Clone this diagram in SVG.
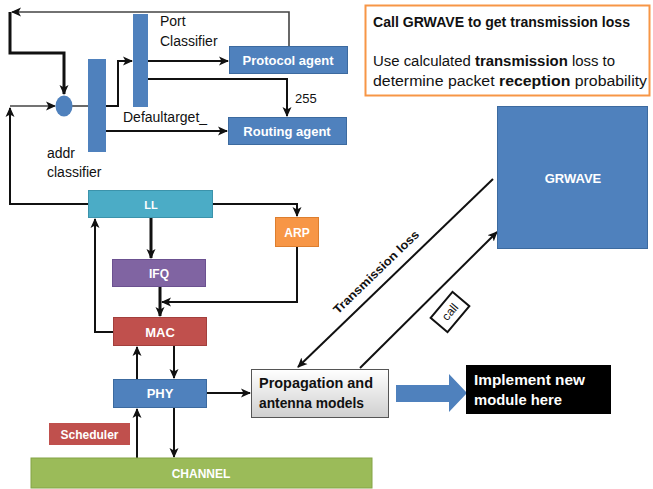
<svg xmlns="http://www.w3.org/2000/svg" width="653" height="489" viewBox="0 0 653 489">
  <defs>
    <marker id="arr" markerUnits="userSpaceOnUse" markerWidth="10" markerHeight="10" viewBox="0 0 10 10" refX="9" refY="5" orient="auto">
      <path d="M0,0.5 L10,5 L0,9.5 L2.5,5 Z" fill="#111"/>
    </marker>
    <linearGradient id="grey" x1="0" y1="0" x2="0" y2="1">
      <stop offset="0" stop-color="#ffffff"/>
      <stop offset="1" stop-color="#cfcfcf"/>
    </linearGradient>
    <style>
      .lbl { font-family: "Liberation Sans", Arial, sans-serif; font-weight: bold; fill: #fff; text-anchor: middle; }
      .lbs { font-family: "Liberation Sans", Arial, sans-serif; font-weight: bold; fill: #fff; }
      .txt { font-family: "Liberation Sans", Arial, sans-serif; fill: #111; }
      .b { font-weight: bold; }
      .blue { fill: #4f81bd; stroke: #3c6a9f; stroke-width: 1; }
      .bar { fill: #4f81bd; }
      .ln { fill: none; stroke: #111; stroke-width: 2; }
      .lt { fill: none; stroke: #444; stroke-width: 1.6; }
      .tk { fill: none; stroke: #111; stroke-width: 3; }
    </style>
  </defs>

  <!-- note box -->
  <g id="note">
    <rect x="365.5" y="5.5" width="284" height="90" fill="#fff" stroke="#f79646" stroke-width="2"/>
    <text class="txt b" x="373" y="27" font-size="14" textLength="257" lengthAdjust="spacingAndGlyphs">Call GRWAVE to get transmission loss</text>
    <text class="txt" x="373" y="66" font-size="14" textLength="242" lengthAdjust="spacingAndGlyphs">Use calculated <tspan class="b">transmission</tspan> loss to</text>
    <text class="txt" x="373" y="86" font-size="14" textLength="274" lengthAdjust="spacingAndGlyphs">determine packet <tspan class="b">reception</tspan> probability</text>
  </g>

  <!-- connectors -->
  <g id="connectors">
    <path class="lt" d="M289,46 L289,12 L12,12" marker-end="url(#arr)"/>
    <path class="tk" d="M10,12 L10,53 L64,53 L64,94" marker-end="url(#arr)"/>
    <path class="ln" d="M88,204 L10,204 L10,108" marker-end="url(#arr)"/>
    <path class="lt" d="M10,106 L55,106" marker-end="url(#arr)"/>
    <path class="lt" d="M72,106 L88,106"/>
    <path class="ln" d="M106,106 L118,106 L118,61 L132,61" marker-end="url(#arr)"/>
    <path class="ln" d="M148,61 L228,61" marker-end="url(#arr)"/>
    <path class="ln" d="M148,79 L287,79 L287,116" marker-end="url(#arr)"/>
    <path class="ln" d="M106,131 L227,131" marker-end="url(#arr)"/>
    <path class="ln" d="M213,204 L297,204 L297,216" marker-end="url(#arr)"/>
    <path class="tk" d="M151,218 L151,258" marker-end="url(#arr)"/>
    <path class="tk" d="M160,287 L160,316" marker-end="url(#arr)"/>
    <path class="ln" d="M297,247 L297,302 L162,302" marker-end="url(#arr)"/>
    <path class="ln" d="M113,332 L95,332 L95,219" marker-end="url(#arr)"/>
    <path class="ln" d="M137,379 L137,347" marker-end="url(#arr)"/>
    <path class="ln" d="M174,346 L174,378" marker-end="url(#arr)"/>
    <path class="ln" d="M207,393 L250,393" marker-end="url(#arr)"/>
    <path class="ln" d="M137,458 L137,409" marker-end="url(#arr)"/>
    <path class="ln" d="M174,408 L174,457" marker-end="url(#arr)"/>
    <path class="ln" d="M493,179 L298,367" marker-end="url(#arr)"/>
    <path class="ln" d="M360,368 L497,232" marker-end="url(#arr)"/>
    <polygon points="396,385 449,385 449,374 467,393 449,412 449,402 396,402" fill="#4f81bd"/>
  </g>

  <!-- labels on connectors -->
  <g id="connector-labels">
    <text class="txt" x="295" y="103" font-size="13">255</text>
    <text class="txt" x="123" y="122" font-size="14">Defaultarget_</text>
    <text class="txt b" transform="translate(379,275) rotate(-44)" text-anchor="middle" font-size="12" textLength="114" lengthAdjust="spacingAndGlyphs">Transmission loss</text>
    <g transform="translate(450,312) rotate(-50)">
      <rect x="-17" y="-11" width="34" height="22" fill="#fff" stroke="#111" stroke-width="2"/>
      <text class="txt" x="0" y="4" text-anchor="middle" font-size="12">call</text>
    </g>
  </g>

  <!-- classifier node -->
  <g id="addr-node">
    <ellipse cx="64" cy="106" rx="8.5" ry="10.5" fill="#4f81bd"/>
  </g>
  <g id="addr-classifier">
    <rect class="bar" x="88" y="59" width="18" height="93"/>
    <text class="txt" x="47" y="158" font-size="14">addr</text>
    <text class="txt" x="47" y="177" font-size="14">classifier</text>
  </g>
  <g id="port-classifier">
    <rect class="bar" x="133" y="14" width="15" height="93"/>
    <text class="txt" x="160" y="26" font-size="14">Port</text>
    <text class="txt" x="160" y="46" font-size="14">Classifier</text>
  </g>

  <g id="protocol-agent">
    <rect class="blue" x="229.5" y="46.5" width="118" height="27"/>
    <text class="lbl" x="288" y="65" font-size="13">Protocol agent</text>
  </g>
  <g id="routing-agent">
    <rect class="blue" x="228.5" y="117.5" width="118" height="27"/>
    <text class="lbl" x="287" y="136" font-size="13">Routing agent</text>
  </g>

  <g id="ll">
    <rect x="88.5" y="190.5" width="124" height="27" fill="#4bacc6" stroke="#3b93ab"/>
    <text class="lbl" x="151" y="209" font-size="11">LL</text>
  </g>
  <g id="arp">
    <rect x="275.5" y="217.5" width="43" height="29" fill="#f79646" stroke="#dd7e2e"/>
    <text class="lbl" x="297" y="237" font-size="12">ARP</text>
  </g>
  <g id="ifq">
    <rect x="112.5" y="259.5" width="93" height="27" fill="#8064a2" stroke="#6b5190"/>
    <text class="lbl" x="159" y="278" font-size="12">IFQ</text>
  </g>
  <g id="mac">
    <rect x="113.5" y="317.5" width="93" height="28" fill="#c0504d" stroke="#a33f3c"/>
    <text class="lbl" x="160" y="337" font-size="13">MAC</text>
  </g>
  <g id="phy">
    <rect class="blue" x="113.5" y="379.5" width="93" height="28"/>
    <text class="lbl" x="160" y="398" font-size="13">PHY</text>
  </g>
  <g id="scheduler">
    <rect x="49" y="423" width="81" height="22" fill="#c0504d"/>
    <text class="lbl" x="89.5" y="439" font-size="12">Scheduler</text>
  </g>
  <g id="channel">
    <rect x="31" y="458" width="341" height="30" fill="#9bbb59" stroke="#84a446"/>
    <text class="lbl" x="201" y="478" font-size="12">CHANNEL</text>
  </g>
  <g id="propagation">
    <rect x="251.5" y="369.5" width="137" height="48" fill="url(#grey)" stroke="#555"/>
    <text class="txt b" x="259" y="388" font-size="14" textLength="114" lengthAdjust="spacingAndGlyphs">Propagation and</text>
    <text class="txt b" x="259" y="408" font-size="14" textLength="105" lengthAdjust="spacingAndGlyphs">antenna models</text>
  </g>
  <g id="new-module">
    <rect x="466" y="365" width="145" height="49" fill="#000"/>
    <text class="lbs" x="474" y="385" font-size="14" textLength="111" lengthAdjust="spacingAndGlyphs">Implement new</text>
    <text class="lbs" x="474" y="405" font-size="14" textLength="88" lengthAdjust="spacingAndGlyphs">module here</text>
  </g>
  <g id="grwave">
    <rect class="blue" x="497.5" y="106.5" width="150" height="142"/>
    <text class="lbl" x="573" y="183" font-size="13">GRWAVE</text>
  </g>
</svg>
